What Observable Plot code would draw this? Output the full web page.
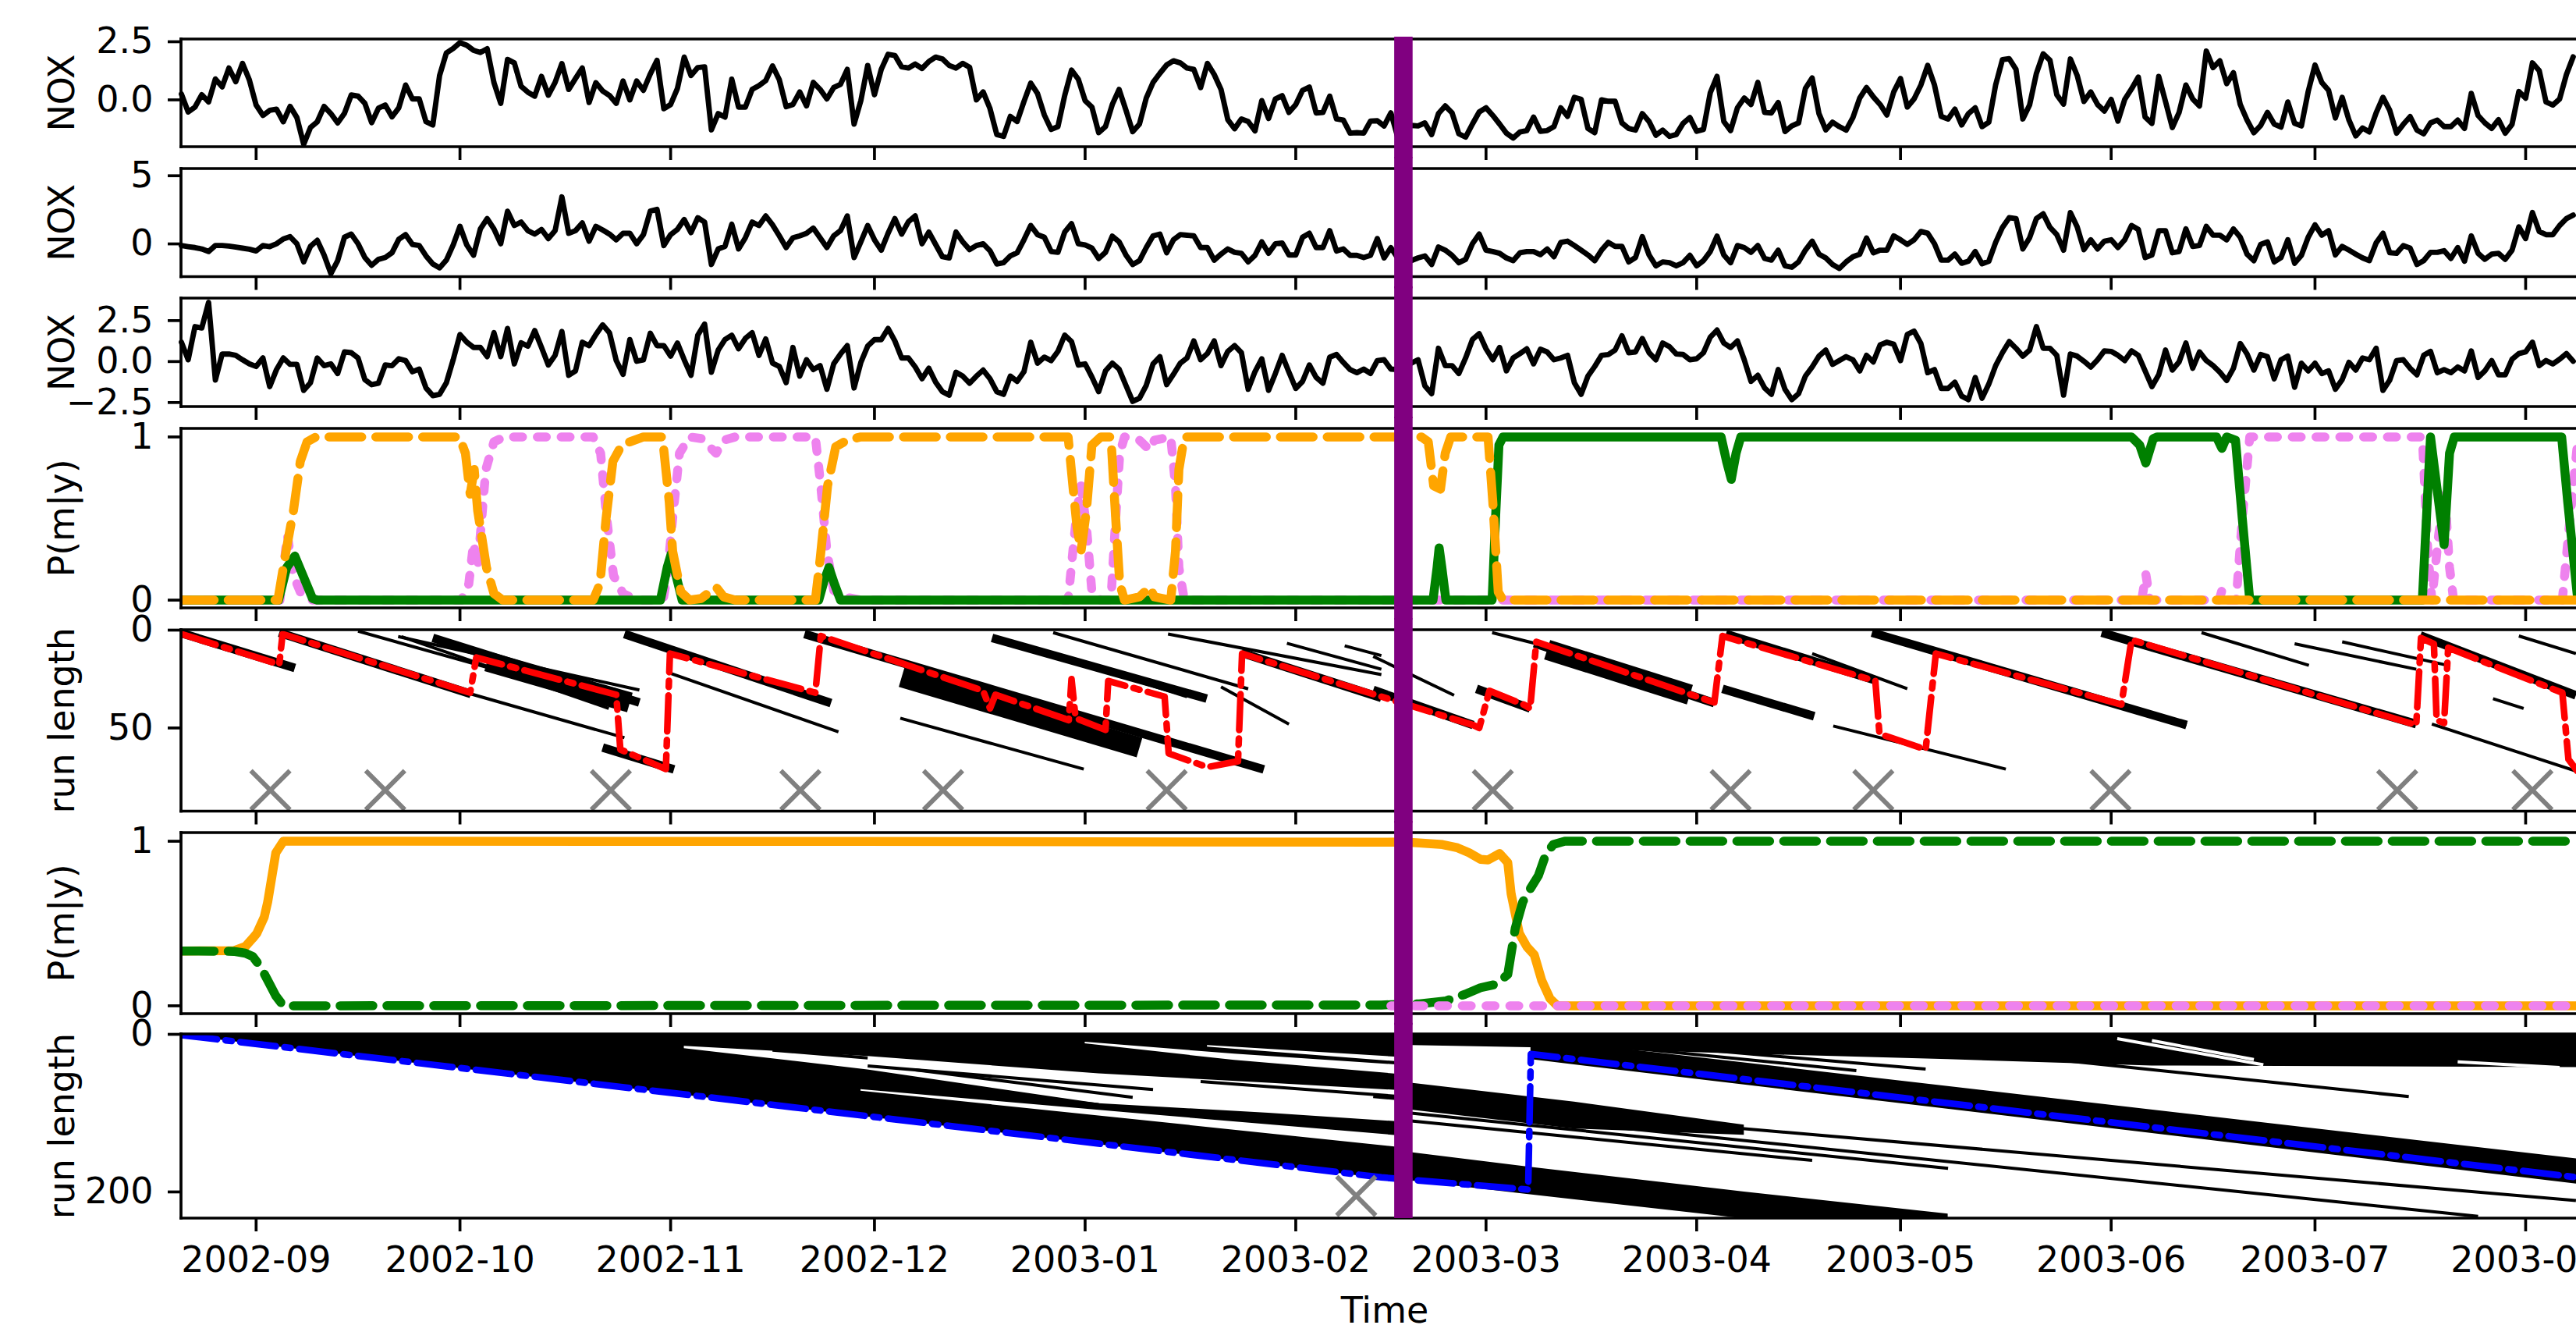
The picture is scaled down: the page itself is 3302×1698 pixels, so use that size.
<!DOCTYPE html>
<html><head><meta charset="utf-8">
<script src="https://cdn.jsdelivr.net/npm/d3@7"></script>
<script src="https://cdn.jsdelivr.net/npm/@observablehq/plot@0.6"></script>
<style>
html,body{margin:0;padding:0;background:#fff;overflow:hidden;}
#fig{position:relative;width:3302px;height:1698px;overflow:hidden;background:#fff;}
#fig svg{position:absolute;left:0;}
</style></head><body><div id="fig"></div>
<script>
// ---------- data (day index k counts days from 2002-08-21) ----------
const startDate = Date.UTC(2002, 7, 21);
const lastDay = 354.3;
const changeDay = 179.9;

const nox1 = [0.25,-0.52,-0.31,0.22,-0.09,0.90,0.56,1.37,0.78,1.57,
0.86,-0.22,-0.67,-0.45,-0.40,-0.94,-0.28,-0.76,-1.91,-1.19,
-0.94,-0.28,-0.59,-0.99,-0.58,0.21,0.16,-0.15,-0.98,-0.36,
-0.22,-0.73,-0.34,0.64,0.04,0.04,-0.94,-1.08,1.05,2.02,
2.21,2.46,2.35,2.13,2.04,2.20,0.74,-0.15,1.74,1.59,
0.58,0.33,0.16,1.01,0.20,0.75,1.56,0.45,0.92,1.37,
-0.11,0.74,0.38,0.19,-0.15,0.81,0.00,0.81,0.41,1.11,
1.70,-0.38,-0.20,0.49,1.84,1.05,1.39,1.42,-1.29,-0.59,
-0.74,0.89,-0.31,-0.31,0.45,0.61,0.83,1.46,0.86,-0.29,
-0.20,0.34,-0.26,0.75,0.45,0.04,0.53,0.67,1.31,-1.04,
-0.03,1.48,0.22,1.31,1.96,1.91,1.42,1.37,1.54,1.35,
1.65,1.84,1.76,1.48,1.37,1.57,1.40,0.00,0.34,-0.37,
-1.49,-1.57,-0.71,-0.93,-0.07,0.72,0.27,-0.65,-1.27,-1.15,
0.19,1.28,0.89,-0.03,-0.31,-1.41,-1.15,-0.20,0.45,-0.43,
-1.37,-1.04,0.08,0.75,1.14,1.50,1.68,1.59,1.37,1.31,
0.53,1.57,1.09,0.45,-0.85,-1.24,-0.82,-0.93,-1.33,-0.03,
-0.80,0.04,0.18,-0.54,-0.20,0.41,0.55,-0.56,-0.54,0.16,
-0.82,-0.87,-1.43,-1.41,-1.43,-0.91,-0.90,-1.12,-0.56,
-1.60,-1.05,-1.10,-1.12,-0.99,-1.49,-0.59,-0.26,-0.56,-1.46,
-1.60,-1.04,-0.52,-0.34,-0.67,-1.04,-1.43,-1.64,-1.38,-1.32,
-0.74,-1.35,-1.32,-1.15,-0.34,-0.71,0.11,0.02,-1.23,-1.41,
0.00,-0.06,-0.06,-0.99,-1.23,-1.30,-0.59,-0.93,-1.52,-1.30,
-1.57,-1.49,-1.01,-0.76,-1.35,-1.27,0.30,1.01,-0.93,-1.32,
-0.34,0.08,-0.20,0.75,-0.54,-0.56,-0.11,-1.36,-1.12,-0.99,
0.49,0.94,-0.59,-1.29,-0.96,-1.15,-1.30,-0.76,0.08,0.53,
0.13,-0.20,-0.65,0.34,0.92,-0.31,0.04,0.64,1.48,0.64,
-0.71,-0.82,-0.40,-1.08,-0.59,
-0.34,-1.15,-0.96,0.64,1.73,1.77,1.31,-0.82,-0.22,1.14,
1.98,1.70,0.22,-0.18,1.76,1.05,-0.07,0.34,-0.20,-0.48,
0.02,-0.91,0.02,0.47,0.98,-0.74,-1.01,1.01,-0.07,-1.19,
-0.54,0.64,0.04,-0.26,2.10,1.39,1.68,0.70,1.17,-0.20,
-0.87,-1.41,-1.10,-0.54,-1.04,-1.17,-0.09,-1.01,-1.12,0.36,
1.50,0.75,0.41,-0.78,0.11,-0.87,-1.55,-1.21,-1.38,-0.56,
0.11,-0.45,-1.43,-1.05,-0.72,-1.30,-1.46,-0.99,-0.87,-1.15,
-1.15,-0.87,-1.23,0.28,-0.67,-0.99,-1.23,-0.85,-1.43,-1.05,
0.36,0.07,1.59,1.26,-0.09,-0.22,0.04,1.09,1.85];

const nox2 = [-0.12,-0.20,-0.27,-0.37,-0.56,-0.12,-0.12,-0.16,-0.23,-0.31,
-0.39,-0.52,-0.12,-0.20,0.01,0.36,0.53,0.01,-1.32,-0.18,
0.26,-0.81,-2.18,-1.23,0.49,0.72,0.01,-1.00,-1.57,-1.13,
-1.00,-0.65,0.34,0.68,-0.04,-0.12,-0.88,-1.47,-1.76,-1.19,
-0.08,1.29,-0.08,-0.84,1.10,1.86,1.10,0.01,2.40,1.35,
1.60,0.97,0.72,1.06,0.39,0.97,3.45,0.78,0.97,1.54,
0.20,1.29,1.02,0.72,0.30,0.78,0.78,0.01,0.68,2.40,
2.53,-0.12,0.68,1.06,1.79,0.83,1.92,1.60,-1.51,-0.37,
-0.18,1.44,-0.37,0.45,1.60,1.35,2.05,1.40,0.59,-0.27,
0.45,0.59,0.78,1.16,0.45,-0.27,0.59,0.97,2.05,-1.00,
0.15,1.35,0.30,-0.46,0.78,1.86,0.72,1.63,2.05,0.01,
0.87,-0.04,-0.94,-1.03,0.87,0.15,-0.42,-0.12,0.01,-0.50,
-1.47,-1.38,-0.88,-0.65,0.30,1.35,0.68,0.49,-0.56,-0.62,
0.87,1.48,0.01,-0.08,-0.31,-1.07,-0.62,0.57,0.15,-0.81,
-1.51,-1.23,-0.27,0.59,0.72,-0.65,0.30,0.68,0.63,0.59,
-0.27,-0.27,-1.19,-0.75,-0.37,-0.62,-0.69,-1.32,-0.84,0.15,
-0.69,0.01,0.07,-0.81,-0.81,0.49,0.78,-0.27,-0.27,0.97,
-0.52,-0.37,-0.84,-0.84,-1.00,-0.84,0.39,-1.03,-0.27,
-1.03,-1.15,-1.23,-1.03,-0.88,-1.51,-0.23,-0.46,-0.84,-1.38,
-1.13,0.01,0.72,-0.46,-0.56,-0.69,-1.03,-1.23,-0.65,-0.56,
-0.56,-0.79,-0.37,-0.94,0.11,0.20,-0.12,-0.46,-0.81,-1.23,
-0.46,0.11,-0.18,-0.18,-1.32,-1.00,0.53,-0.81,-1.61,-1.32,
-1.38,-1.61,-1.38,-0.84,-1.61,-1.23,-0.56,0.57,-0.81,-1.38,
-0.12,-0.27,-0.62,-0.12,-1.07,-1.19,-0.46,-1.61,-1.71,-1.32,
-0.46,0.20,-0.75,-1.03,-1.51,-1.80,-1.32,-0.94,-0.75,0.43,
-0.65,-0.46,-0.46,0.59,0.30,-0.04,0.30,0.91,0.78,0.01,
-1.19,-1.19,-0.75,-1.42,-1.27,
-0.56,-1.46,-1.27,0.11,1.21,1.92,1.86,-0.37,0.45,1.86,
2.21,1.21,0.68,-0.46,2.30,1.25,-0.42,0.30,-0.37,0.20,
0.30,-0.27,0.30,1.35,1.06,-1.00,-0.81,0.97,0.97,-0.65,
-0.56,1.10,-0.18,-0.12,1.29,0.64,0.64,0.30,1.10,0.49,
-0.75,-1.23,-0.04,0.15,-1.32,-1.00,0.30,-1.42,-0.84,0.49,
1.40,0.64,0.97,-0.81,-0.18,-0.46,-0.75,-1.03,-1.23,0.07,
0.78,-0.65,-0.69,-0.12,-0.31,-1.51,-1.23,-0.62,-0.62,-0.50,
-1.07,-0.27,-1.27,0.59,-0.69,-1.13,-0.75,-0.69,-1.13,-0.46,
1.25,0.39,2.30,0.91,0.68,0.68,1.35,1.86,2.11];

const nox3 = [1.18,0.11,2.13,2.05,3.61,-1.13,0.46,0.46,0.38,0.11,
-0.14,-0.30,0.22,-1.53,-0.49,0.22,-0.17,-0.17,-1.76,-1.29,
0.22,-0.25,-0.14,-0.73,0.59,0.54,0.22,-1.10,-1.41,-1.32,
-0.21,-0.25,0.17,0.06,-0.62,-0.46,-1.61,-2.08,-2.00,-1.29,
0.11,1.65,1.18,0.86,0.86,0.30,1.76,0.30,2.02,-0.14,
1.14,0.94,1.89,0.86,-0.21,0.38,1.84,-0.84,-0.57,1.18,
0.97,1.65,2.24,1.76,0.06,-0.78,1.34,0.02,0.11,1.73,
0.97,0.97,0.33,1.13,0.11,-0.84,1.61,2.29,-0.65,0.70,
1.34,1.61,0.78,1.41,1.76,0.38,1.38,-0.10,-0.30,-1.29,
0.86,-0.89,0.11,-0.49,-0.25,-1.69,-0.14,0.46,0.97,-1.61,
-0.05,0.94,1.34,1.34,2.02,1.26,0.22,0.22,-0.33,-1.05,
-0.41,-1.26,-1.84,-2.05,-0.65,-0.89,-1.32,-0.89,-0.52,-1.05,
-1.84,-2.00,-0.89,-1.21,-0.62,1.18,-0.10,0.27,0.06,0.62,
1.61,1.22,-0.21,-0.14,-0.94,-1.84,-0.57,-0.10,-0.46,-1.45,
-2.43,-2.24,-1.45,-0.14,0.30,-1.41,-0.78,-0.10,0.22,1.26,
0.11,0.49,1.26,-0.25,0.62,0.97,0.54,-1.69,-0.62,0.17,
-1.76,-0.73,0.38,-0.65,-1.64,-1.21,-0.21,-0.97,-1.32,0.27,
0.43,-0.05,-0.49,-0.68,-0.46,-0.73,0.06,0.11,-0.46,
-0.49,-0.30,-0.10,0.11,-1.48,-1.96,0.81,-0.25,-0.25,-0.73,
0.22,1.34,1.70,0.78,0.11,0.86,-0.57,0.22,0.49,0.78,
-0.14,0.75,0.59,0.11,0.22,0.38,-1.29,-2.00,-0.89,-0.30,
0.38,0.43,0.70,1.57,0.54,0.59,1.41,0.54,0.11,1.13,
0.91,0.46,0.43,0.11,0.17,0.54,1.49,1.92,1.13,0.86,
1.26,0.11,-1.21,-0.84,-1.61,-2.00,-0.49,-1.69,-2.32,-1.96,
-0.89,-0.33,0.33,0.70,-0.17,0.06,0.30,0.11,-0.57,0.38,
-0.02,1.02,1.18,1.06,0.06,1.65,1.86,1.10,-0.68,-0.49,
-1.64,-1.64,-1.26,-2.11,-2.32,
-0.97,-2.24,-1.37,-0.25,0.54,1.22,0.81,0.33,0.70,2.13,
0.81,0.81,0.38,-2.05,0.46,0.33,0.02,-0.33,0.11,0.65,
0.62,0.38,0.06,0.65,0.38,-0.57,-1.53,-0.81,0.70,-0.52,
-0.02,1.13,-0.41,0.59,0.06,-0.25,-0.65,-1.16,-0.41,1.10,
0.46,-0.52,0.43,0.30,-1.05,0.11,0.33,-1.57,-0.10,-0.57,
-0.10,-0.73,-0.57,-1.69,-1.10,-0.05,-0.52,0.22,0.11,0.81,
-1.76,-1.13,0.06,0.11,-0.41,-0.81,0.38,0.62,-0.68,-0.49,
-0.68,-0.33,-0.57,0.65,-0.97,-0.57,0.06,-0.81,-0.81,0.14,
0.49,0.59,1.18,-0.25,0.06,-0.14,0.14,0.49,0.02];

// panel 4: model posteriors [day, P]
const p4Green = [[0,0],[14.3,0],[15.5,0.2],[16.7,0.27],[17.6,0.18],[19.3,0.01],[20,0],[70.5,0],[71.5,0.2],[72.1,0.285],[72.8,0.15],[73.7,0],[93.8,0],[94.6,0.12],[95.3,0.2],[96.1,0.1],[97,0],[184.2,0],[184.8,0.2],[185.1,0.32],[185.5,0.2],[186.1,0],[192.9,0],[193.4,0.5],[193.9,0.95],[194.5,1],[226.6,1],[227.4,0.85],[228.1,0.74],[228.8,0.9],[229.5,1],[287,1],[288.2,0.95],[289.1,0.84],[290.2,0.99],[290.8,1],[299.5,1],[300.3,0.93],[301,1],[302.3,0.98],[303.3,0.5],[304.4,0],[329.8,0],[331.0,1],[331.6,0.8],[333.0,0.34],[333.8,0.9],[334.5,1],[350.3,1],[351.2,0.6],[352.6,0.03]];
const p4Orange = [[0,0],[14.2,0],[15.4,0.3],[16.5,0.55],[17.5,0.85],[18.5,0.97],[19.8,1],[40.9,1],[41.8,0.9],[42.5,0.65],[43.1,0.8],[43.6,0.55],[44.9,0.2],[46.0,0.04],[47.3,0],[60.6,0],[61.6,0.1],[62.5,0.5],[63.5,0.85],[64.8,0.95],[66,0.97],[68,1],[70.8,1],[71.8,0.6],[72.3,0.3],[73.5,0.05],[74.8,0],[76.5,0.01],[78.7,0.08],[79.8,0.02],[81.5,0],[93.3,0],[94.0,0.25],[95.1,0.7],[96.3,0.94],[98,0.98],[100,1],[130.5,1],[131.2,0.7],[131.8,0.45],[132.4,0.3],[133.2,0.55],[134,0.95],[135.3,1],[136.8,1],[137.5,0.5],[138.1,0.1],[138.8,0],[141,0.02],[142.5,0.08],[143.2,0.02],[145.6,0],[146.3,0.3],[146.8,0.8],[147.6,1],[182.5,1],[183.5,0.97],[184.3,0.7],[185.3,0.68],[186,0.9],[186.8,1],[192.3,1],[193,0.6],[193.8,0.05],[194.5,0],[352.6,0]];
const p4Violet = [[0,0],[14.5,0],[15.6,0.4],[16.5,0.15],[17.5,0.05],[19,0],[41.2,0],[42.3,0.1],[43,0.35],[43.6,0.2],[44.8,0.8],[46,0.97],[47.5,1],[60.6,1],[61.7,0.9],[62.6,0.5],[63.6,0.15],[65,0.04],[67,0],[70.9,0],[71.5,0.15],[72.3,0.5],[73.3,0.9],[74.8,1],[76.5,0.99],[78.7,0.9],[79.8,0.98],[81.5,1],[93.3,1],[94.1,0.7],[95,0.3],[96,0.06],[97.5,0.02],[100,0],[130.5,0],[131.2,0.3],[131.8,0.55],[132.4,0.7],[133.2,0.45],[134,0.05],[135.3,0],[136.8,0],[137.5,0.5],[138.1,0.9],[138.8,1],[141,0.98],[142.5,0.92],[143.2,0.98],[145.6,1],[146.3,0.7],[146.8,0.2],[147.6,0],[288.5,0],[289.1,0.16],[289.7,0],[299.9,0],[300.3,0.06],[300.7,0],[302.4,0],[303.3,0.5],[304.4,1],[329.8,1],[330.6,0.3],[331.2,0],[332.2,0.4],[333.1,0.66],[333.8,0.2],[334.4,0],[350.4,0],[351.3,0.4],[352.6,0.95]];

// panel 5: run-length posterior streaks [day1, r1, day2, r2], MAP run length, true change points
const p5Thick = [[-0.2,1.3,16.7,19.3],[14.4,1.3,42.6,32.6],[44,13,64,32],[37,4,67.4,37],[62,60,72.5,71.2],[65.2,2,95.6,37.3],[91.7,2,159.3,71.2],[156,11.6,176.6,34.6],[175.4,30.6,190.1,48.5],[190.6,30,198.5,40],[199.1,6.7,225.6,37.3],[227.3,2,249.3,25.6],[248.8,1.3,295.1,48.5],[282.6,1.3,328.9,48],[329.5,2.7,352.4,33.3],[119.3,4,150.9,35],[226.8,30,240.3,44]];
const p5Dense = [[45,16,66,37],[106,24,141,60],[201,10,222,33]];
const p5Thin = [[42.6,32.6,65.2,55],[32.4,3.3,62.9,40],[71.9,22,96.7,52],[105.8,45,132.8,71],[123.8,7.5,148,34],[128.3,1.3,157,30],[145.2,2,176.6,22.7],[162.7,6.7,176.6,20],[153,29,163,48],[171.2,8,176.6,13],[175.4,13.4,187.3,33.3],[192.9,1.3,199.1,6.7],[243.1,49,268.5,71],[240,12,254,30],[285.5,38,295.1,48.5],[297.3,1.3,313.1,18],[311,7,328.9,20],[318,6,333.5,18],[331.2,48,352.4,72],[344,3,352.4,12],[340.2,35,344.7,40],[26,0.5,48,22],[31.9,3.3,67.4,30.6]];
const p5Map = [[0,2],[14.4,17.5],[14.9,2],[42.5,32],[43.4,14],[64.0,33],[64.6,61],[71.3,71],[71.9,12],[93.3,32],[94.1,3],[118,31],[119,40],[119.8,33],[130.6,46],[131,25],[131.6,45],[136,51],[136.4,26],[144.7,34],[145.3,63],[151,70],[155.5,67],[156.1,12],[176.6,34],[190.1,48.5],[191,50],[192.5,31],[197.5,38],[198.5,40],[199.4,6],[225.6,37],[226.8,3],[249.3,26],[249.9,53],[256.7,61],[258.2,12],[285.5,38],[287.0,5],[328.9,48.5],[329.6,4],[331.5,7],[331.9,46],[333,47.5],[333.6,9],[350.4,32],[351.3,66],[352.6,72]];
const p5Changes = [13.1,30.0,63.2,91.1,112.1,145.0,193.0,228.0,249.0,283.9,326.1,346.0];
const p5ChangeLevel = 81.8;

// panel 6: second model posteriors
const p6Orange = [[0,0.333],[7.7,0.335],[9.4,0.36],[10.5,0.41],[11.1,0.44],[12.2,0.54],[12.7,0.63],[13.9,0.93],[15,1],[100,0.999],[176.6,0.994],[179.9,0.995],[182.2,0.99],[185.6,0.98],[187.8,0.96],[189.5,0.93],[191.2,0.89],[192.3,0.886],[194,0.925],[195.2,0.87],[195.7,0.68],[196.9,0.44],[198,0.36],[199.1,0.31],[200.2,0.155],[201.4,0.045],[202.5,0],[352.6,0]];
const p6Green = [[0,0.333],[7.7,0.331],[9.4,0.32],[10.5,0.30],[11.6,0.24],[12.7,0.155],[13.9,0.06],[15,0],[176.6,0.005],[182.2,0.012],[186.1,0.03],[188.9,0.07],[191.2,0.11],[193.4,0.13],[195.2,0.19],[196.3,0.47],[197.4,0.63],[198.5,0.71],[199.7,0.79],[200.8,0.92],[201.9,0.98],[203.6,1],[352.6,1]];
const p6Violet = [[178,0],[352.6,0]];

// panel 7: run-length posterior of second model
const p7Map = [[0,1],[90,92.5],[176.6,181.5],[198.2,197],[198.6,25],[352.6,181.5]];
const p7BlackBands = [
  [[0,0,1.5],[90,0,93.5],[176.6,0,183],[181,0,187]],
  [[181,0,14],[200,0,17],[230,0,25],[260,0,32],[290,0,40],[352.6,0,42]],
  [[198.6,5,32],[352.6,158,190]],
  [[181,62,96],[205,86,120],[230,115,128]],
  [[181,150,186],[198,168,203],[230,200,234],[260,228,234]]
];
const p7WhiteBands = [
  [[74,15,18],[101,28,45],[135,50,88],[160,62,100],[181,72,112]],
  [[133,10,12],[155,25,33],[181,40,52]],
  [[151,14,16],[181,30,36]],
  [[100,70,72],[140,100,108],[181,130,145]]
];
const p7BlackLines = [[87,20,101,30],[101,40,143,70],[108,45,140,80],[95,55,135,89],[150,60,181,80],[175.4,79,352.4,211],[209,116,338,231],[203.6,9,246.5,46],[214.9,13,256.7,44],[269,26,327.8,79],[181,100,260,170],[181,110,240,160]];
const p7WhiteLines = [[284.9,5.5,306.4,38.6],[290,8,305,32],[335,35,350,42]];
const p7Changes = [172.9];
const p7ChangeLevel = 205;

// ---------- drawing ----------
const W = 3302, H = 1698;
const day = k => new Date(startDate + k * 864e5);
const fig = document.getElementById("fig");
const months = d3.utcMonth.range(day(0), day(lastDay));
const minus = s => s.replace("-", "\u2212");
const dashOrange = "42,18", dotViolet = "11.5,19", dashDot = "46,11,8,11";
const LW = 11.5, MAPW = 8.5;

function spines() {
  return (index, {x}, values, {height, marginTop, marginBottom}) => {
    const g = d3.create("svg:g").attr("stroke", "black").attr("stroke-width", 3.7).attr("stroke-linecap", "square");
    const x0 = x(day(0)), x1 = x(day(lastDay));
    const yb = height - marginBottom;
    g.append("line").attr("x1", x0).attr("x2", x1).attr("y1", marginTop).attr("y2", marginTop);
    g.append("line").attr("x1", x0).attr("x2", x1).attr("y1", yb).attr("y2", yb);
    g.append("line").attr("x1", x0).attr("x2", x0).attr("y1", marginTop).attr("y2", yb);
    return g.node();
  };
}
function ylabel(text) {
  return (index, scales, values, {height, marginTop, marginBottom}) => {
    const cy = (marginTop + height - marginBottom) / 2;
    return d3.create("svg:text").attr("transform", `translate(95,${cy}) rotate(-90)`)
      .attr("text-anchor", "middle").attr("fill", "black").attr("font-size", 46).text(text).node();
  };
}
function purpleRule(first, last, gapAbove, gapBelow) {
  return (index, {x}, values, {height, marginTop, marginBottom}) => {
    const px = x(day(changeDay));
    return d3.create("svg:line").attr("x1", px).attr("x2", px)
      .attr("y1", first ? marginTop - 3 : marginTop - gapAbove)
      .attr("y2", last ? height - marginBottom : height - marginBottom + gapBelow)
      .attr("stroke", "purple").attr("stroke-width", 23.6).node();
  };
}
function timeLabel(svgTop) {
  return (index, {x}) => d3.create("svg:text").attr("x", x(day(lastDay / 2))).attr("y", 1695 - svgTop)
    .attr("text-anchor", "middle").attr("fill", "black").attr("font-size", 46).text("Time").node();
}

const seg = (data, opts) => Plot.link(data, {x1: d => day(d[0]), y1: d => d[1], x2: d => day(d[2]), y2: d => d[3], clip: true, ...opts});
const path = (data, opts) => Plot.line(data, {x: d => day(d[0]), y: d => d[1], clip: true, ...opts});
const band = (rows, fill) => Plot.areaY(rows, {x: d => day(d[0]), y1: d => d[1], y2: d => d[2], fill, clip: true});

const panels = [
  {top: 50, bottom: 188, y: {domain: [-2.03, 2.6]}, ticks: [0, 2.5], fmt: d => d.toFixed(1), label: "NOX",
   marks: [Plot.line(nox1, {x: (d, i) => day(i), y: d => d, stroke: "black", strokeWidth: 6.9, strokeLinejoin: "round"})]},
  {top: 215.5, bottom: 354, y: {domain: [-2.43, 5.5]}, ticks: [0, 5], fmt: d => String(d), label: "NOX",
   marks: [Plot.line(nox2, {x: (d, i) => day(i), y: d => d, stroke: "black", strokeWidth: 6.9, strokeLinejoin: "round"})]},
  {top: 382, bottom: 521, y: {domain: [-2.77, 3.85]}, ticks: [-2.5, 0, 2.5], fmt: d => minus(d.toFixed(1)), label: "NOX",
   marks: [Plot.line(nox3, {x: (d, i) => day(i), y: d => d, stroke: "black", strokeWidth: 6.9, strokeLinejoin: "round"})]},
  {top: 549, bottom: 779, y: {domain: [-0.05, 1.05]}, ticks: [0, 1], fmt: d => String(d), label: "P(m|y)",
   marks: [
     path(p4Violet, {stroke: "violet", strokeWidth: LW, strokeDasharray: dotViolet}),
     path(p4Green, {stroke: "green", strokeWidth: LW, strokeLinejoin: "round"}),
     path(p4Orange, {stroke: "orange", strokeWidth: LW, strokeDasharray: dashOrange})
   ]},
  {top: 806.5, bottom: 1039, y: {domain: [0, 92.7], reverse: true}, ticks: [0, 50], fmt: d => String(d), label: "run length",
   marks: [
     seg(p5Dense, {stroke: "black", strokeWidth: 26}),
     seg(p5Thick, {stroke: "black", strokeWidth: 11}),
     seg(p5Thin, {stroke: "black", strokeWidth: 4}),
     path(p5Map, {stroke: "red", strokeWidth: MAPW, strokeDasharray: dashDot}),
     Plot.dot(p5Changes, {x: d => day(d), y: () => p5ChangeLevel, symbol: "times", r: 22.8, stroke: "gray", strokeWidth: 6})
   ]},
  {top: 1066.5, bottom: 1298.5, y: {domain: [-0.05, 1.05]}, ticks: [0, 1], fmt: d => String(d), label: "P(m|y)",
   marks: [
     path(p6Orange, {stroke: "orange", strokeWidth: LW, strokeLinejoin: "round"}),
     path(p6Green, {stroke: "green", strokeWidth: LW, strokeDasharray: dashOrange}),
     path(p6Violet, {stroke: "violet", strokeWidth: LW, strokeDasharray: dotViolet})
   ]},
  {top: 1325, bottom: 1561, y: {domain: [0, 233.7], reverse: true}, ticks: [0, 200], fmt: d => String(d), label: "run length",
   marks: [
     ...p7BlackBands.map(b => band(b, "black")),
     ...p7WhiteBands.map(b => band(b, "white")),
     seg(p7BlackLines, {stroke: "black", strokeWidth: 4}),
     seg(p7WhiteLines, {stroke: "white", strokeWidth: 4}),
     path(p7Map, {stroke: "blue", strokeWidth: MAPW, strokeDasharray: dashDot}),
     Plot.dot(p7Changes, {x: d => day(d), y: () => p7ChangeLevel, symbol: "times", r: 22.8, stroke: "gray", strokeWidth: 6, clip: true})
   ]}
];

panels.forEach((p, i) => {
  const first = i === 0, last = i === panels.length - 1;
  const prevBottom = first ? 0 : panels[i - 1].bottom;
  const nextTop = last ? H : panels[i + 1].top;
  const svgTop = first ? 0 : p.top - 45;
  const svgBottom = last ? H : p.bottom + 45;
  const height = svgBottom - svgTop;
  const gapAbove = p.top - prevBottom;
  const gapBelow = nextTop - p.bottom;
  const marks = [
    ...p.marks,
    spines(),
    Plot.axisY({ticks: p.ticks, tickFormat: p.fmt, tickSize: 17, tickPadding: 19, strokeWidth: 3.7, label: null, fontSize: 46}),
    Plot.axisX({ticks: months, tickFormat: last ? d3.utcFormat("%Y-%m") : () => "", tickSize: 17, tickPadding: 19, strokeWidth: 3.7, label: null, fontSize: 46}),
    ylabel(p.label),
    purpleRule(first, last, gapAbove / 2 + 1, gapBelow / 2 + 1)
  ];
  if (last) marks.push(timeLabel(svgTop));
  const svg = Plot.plot({
    width: W, height,
    marginTop: p.top - svgTop, marginBottom: svgBottom - p.bottom, marginLeft: 232, marginRight: 0,
    x: {type: "utc", domain: [day(0), day(lastDay)], range: [232, 232 + lastDay * 8.71]},
    y: p.y,
    style: {fontFamily: "DejaVu Sans", fontSize: "46px", background: "transparent", color: "black", overflow: "hidden"},
    marks
  });
  svg.style.top = svgTop + "px";
  fig.append(svg);
});
</script></body></html>
